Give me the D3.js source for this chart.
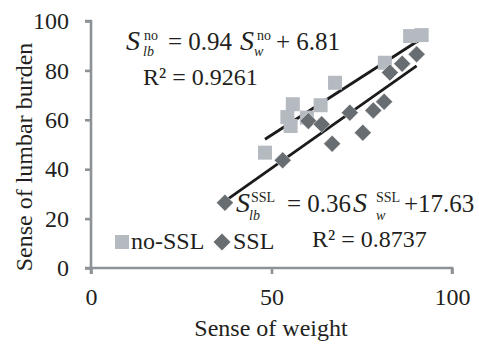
<!DOCTYPE html>
<html>
<head>
<meta charset="utf-8">
<script src="https://cdn.jsdelivr.net/npm/d3@7"></script>
<style>
  body { margin: 0; background: #fff; }
  svg { display: block; }
  text { font-family: "Liberation Serif", "Times New Roman", serif; fill: #231f20; }
</style>
</head>
<body>
<div id="chart"></div>
<script>
// sense of weight (x) vs sense of lumbar burden (y)
const noSslX = [48.2, 55.3, 54.4, 55.9, 59.8, 63.6, 67.6, 81.4, 88.4, 91.6];
const noSslY = [46.7, 57.5, 61.1, 66.3, 60.9, 65.9, 75.0, 83.1, 93.9, 94.3];
const sslX = [37.1, 53.1, 60.2, 63.9, 66.8, 71.7, 75.3, 78.2, 81.2, 82.8, 86.2, 90.2];
const sslY = [26.4, 43.6, 59.5, 58.2, 50.3, 62.9, 54.8, 63.8, 67.3, 79.1, 82.7, 86.5];

// trend lines as drawn in the figure
const trendSlope = [0.94, 1.03];
const trendIntercept = [6.81, -11.1];

const xTicks = [0, 50, 100];
const yTicks = [0, 20, 40, 60, 80, 100];
const legendLabels = ['no-SSL', 'SSL'];

const W = 479, H = 345;
const axisColor = '#8d9297';
const noColor = '#b5bac1';
const sslColor = '#686d71';

const svg = d3.select('#chart').append('svg')
  .attr('width', W).attr('height', H);

const x = d3.scaleLinear().domain([0, 100]).range([91, 452]);
const y = d3.scaleLinear().domain([0, 100]).range([268, 21]);

// axes
const gx = svg.append('g')
  .attr('transform', 'translate(0,' + y(0) + ')')
  .call(d3.axisBottom(x).tickValues(xTicks).tickSize(6).tickPadding(8));
const gy = svg.append('g')
  .attr('transform', 'translate(' + x(0) + ',0)')
  .call(d3.axisLeft(y).tickValues(yTicks).tickSize(6).tickPadding(16));

[gx, gy].forEach(g => {
  g.select('.domain').attr('stroke', axisColor).attr('stroke-width', 2.6);
  g.selectAll('.tick line').attr('stroke', axisColor).attr('stroke-width', 2.6);
  g.selectAll('.tick text')
    .attr('fill', '#231f20')
    .style('font-family', '"Liberation Serif", serif')
    .style('font-size', '24px');
});
gx.select('.domain').attr('d', 'M' + x(0) + ',6V0H' + x(100) + 'V6');
gy.select('.domain').attr('d', 'M-6,' + y(100) + 'H0V' + y(0) + 'H-6');
gx.selectAll('.tick text').attr('dy', '0.95em');

// axis titles
svg.append('text')
  .attr('x', 271).attr('y', 336)
  .attr('text-anchor', 'middle')
  .style('font-size', '24px')
  .text('Sense of weight');
svg.append('text')
  .attr('transform', 'translate(32,157) rotate(-90)')
  .attr('text-anchor', 'middle')
  .style('font-size', '24px')
  .text('Sense of lumbar burden');

// trend lines
const series = [noSslX, sslX];
series.forEach((xs, i) => {
  const x0 = d3.min(xs), x1 = d3.max(xs);
  svg.append('line')
    .attr('x1', x(x0)).attr('y1', y(trendSlope[i] * x0 + trendIntercept[i]))
    .attr('x2', x(x1)).attr('y2', y(trendSlope[i] * x1 + trendIntercept[i]))
    .attr('stroke', '#1b1b1b')
    .attr('stroke-width', 2.8);
});

// points
const sq = 14;
svg.append('g').selectAll('rect')
  .data(d3.range(noSslX.length))
  .join('rect')
    .attr('x', i => x(noSslX[i]) - sq / 2)
    .attr('y', i => y(noSslY[i]) - sq / 2)
    .attr('width', sq).attr('height', sq)
    .attr('fill', noColor);

const dm = 8.5;
const diamond = 'M0,' + (-dm) + 'L' + dm + ',0L0,' + dm + 'L' + (-dm) + ',0Z';
svg.append('g').selectAll('path')
  .data(d3.range(sslX.length))
  .join('path')
    .attr('d', diamond)
    .attr('transform', i => 'translate(' + x(sslX[i]) + ',' + y(sslY[i]) + ')')
    .attr('fill', sslColor)
    .attr('stroke', '#ffffff')
    .attr('stroke-opacity', 0.6)
    .attr('stroke-width', 0.8);

// equations
function eqPart(px, py, str, size, italic) {
  svg.append('text')
    .attr('x', px).attr('y', py)
    .style('font-size', size + 'px')
    .style('font-style', italic ? 'italic' : 'normal')
    .text(str);
}

// no-SSL
eqPart(126, 50, 'S', 28, true);
eqPart(144, 40, 'no', 14, false);
eqPart(143, 56, 'lb', 14, true);
eqPart(168, 50, '= 0.94', 25, false);
eqPart(240, 50, 'S', 28, true);
eqPart(257, 40, 'no', 14, false);
eqPart(254, 56, 'w', 14, true);
eqPart(276, 50, '+ 6.81', 25, false);
eqPart(143, 85, 'R\u00b2 = 0.9261', 24, false);

// SSL
eqPart(236, 212, 'S', 28, true);
eqPart(251, 202, 'SSL', 14, false);
eqPart(249, 220, 'lb', 14, true);
eqPart(287, 212, '= 0.36', 25, false);
eqPart(353, 212, 'S', 28, true);
eqPart(376, 202, 'SSL', 14, false);
eqPart(376, 220, 'w', 14, true);
eqPart(404, 212, '+17.63', 25, false);
eqPart(312, 247, 'R\u00b2 = 0.8737', 24, false);

// legend
const lg = svg.append('g').attr('transform', 'translate(115,249)');
lg.append('rect')
  .attr('x', 0).attr('y', -14).attr('width', sq).attr('height', sq)
  .attr('fill', noColor);
lg.append('text').attr('x', 16).attr('y', 0)
  .style('font-size', '24px').text(legendLabels[0]);
lg.append('path')
  .attr('d', diamond)
  .attr('transform', 'translate(107,-7)')
  .attr('fill', sslColor);
lg.append('text').attr('x', 118).attr('y', 0)
  .style('font-size', '24px').text(legendLabels[1]);
</script>
</body>
</html>
